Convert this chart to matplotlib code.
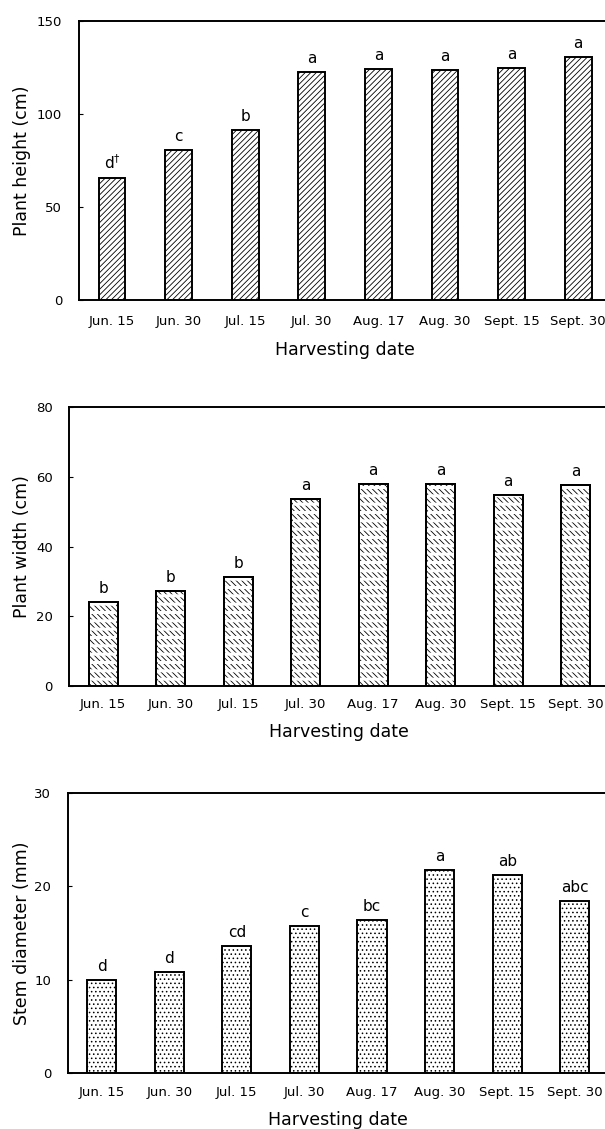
import matplotlib
matplotlib.use("Agg")
import matplotlib.pyplot as plt
import numpy as np

plt.rcParams['font.family'] = ['DejaVu Sans']
plt.rcParams['hatch.linewidth'] = 0.6

dates = ['Jun. 15', 'Jun. 30', 'Jul. 15', 'Jul. 30', 'Aug. 17', 'Aug. 30', 'Sept. 15', 'Sept. 30']

height = [65.5, 80.8, 91.4, 122.7, 124.2, 123.8, 124.6, 130.5]
height_sig = [r'd$^{\dagger}$', 'c', 'b', 'a', 'a', 'a', 'a', 'a']

width = [24.0, 27.3, 31.2, 53.6, 58.0, 57.8, 54.9, 57.7]
width_sig = ['b', 'b', 'b', 'a', 'a', 'a', 'a', 'a']

stem = [9.9, 10.8, 13.6, 15.8, 16.4, 21.8, 21.2, 18.4]
stem_sig = ['d', 'd', 'cd', 'c', 'bc', 'a', 'ab', 'abc']

W, H = 605, 1129
fig = plt.figure(figsize=(W / 100, H / 100), dpi=100)

# axes boxes in pixels: left, top, right, bottom
panels = [
    dict(box=(78.7, 21, 611.5, 300), vals=height, sig=height_sig, ylim=150, step=50,
         ylabel='Plant height (cm)', hatch='//////', xpad=11, bw=0.40),
    dict(box=(69.4, 407, 609.4, 686), vals=width, sig=width_sig, ylim=80, step=20,
         ylabel='Plant width (cm)', hatch='\\\\\\\\\\\\', xpad=8.5, bw=0.43),
    dict(box=(67.8, 793.3, 608.6, 1072.7), vals=stem, sig=stem_sig, ylim=30, step=10,
         ylabel='Stem diameter (mm)', hatch='....', xpad=9.5, bw=0.43),
]

x = np.arange(len(dates))
for i, p in enumerate(panels):
    l, t, r, b = p['box']
    ax = fig.add_axes([l / W, 1 - b / H, (r - l) / W, (b - t) / H])
    ax.bar(x, p['vals'], width=p['bw'], color='white', edgecolor='black',
           linewidth=1.4, hatch=p['hatch'])
    if i == 1:
        # break the hatch into rows like the original pattern
        rows = ax.bar(x, p['vals'], width=p['bw'] * 0.9, color='none', edgecolor='white',
                      linewidth=0, hatch='--')
        for patch in rows:
            if hasattr(patch, 'set_hatch_linewidth'):
                patch.set_hatch_linewidth(2.2)
        ax.bar(x, p['vals'], width=p['bw'], color='none', edgecolor='black', linewidth=1.4)
    for xi, v, s in zip(x, p['vals'], p['sig']):
        ax.annotate(s, (xi, v), xytext=(0, 6.5), textcoords='offset points',
                    ha='center', va='baseline', fontsize=11)
    ax.set_xlim(-0.5, 7.5)
    ax.set_ylim(0, p['ylim'])
    ax.set_yticks(np.arange(0, p['ylim'] + 1, p['step']))
    ax.set_xticks(x)
    ax.set_xticklabels(dates)
    ax.tick_params(axis='x', length=0, pad=p['xpad'], labelsize=9.5)
    ax.tick_params(axis='y', direction='in', length=3, pad=12, labelsize=9.5)
    ax.spines['right'].set_visible(False)
    for sp in ['top', 'left', 'bottom']:
        ax.spines[sp].set_linewidth(1.4)
    ax.set_ylabel(p['ylabel'], fontsize=12.5)
    ax.yaxis.set_label_coords((31 - l) / (r - l), 0.5)
    ax.set_xlabel('Harvesting date', fontsize=12.5, labelpad=9)

fig.savefig('out.png', dpi=100)
